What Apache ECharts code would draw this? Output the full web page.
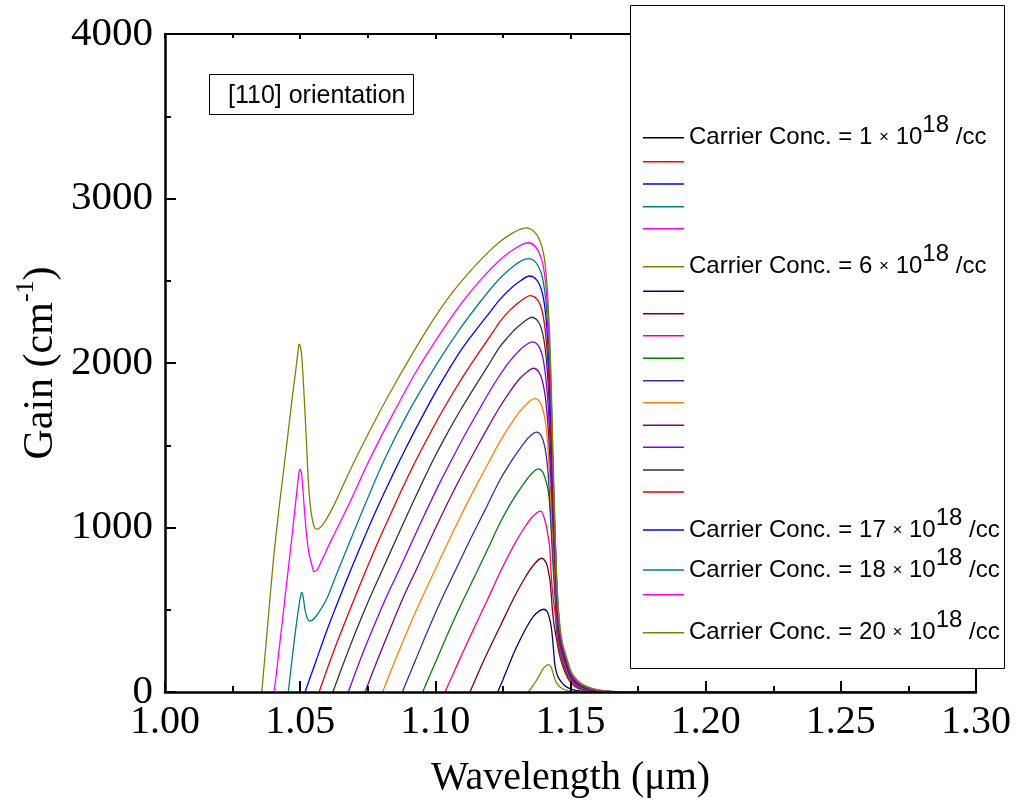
<!DOCTYPE html>
<html><head><meta charset="utf-8">
<script src="https://cdn.jsdelivr.net/npm/echarts@6/dist/echarts.min.js"></script>
<style>html,body{margin:0;padding:0;background:#fff}#chart{width:1016px;height:812px}</style>
</head><body><div id="chart"></div>
<script>
// ---- data: [wavelength (um), gain (cm^-1)] ----
const c1 = [[1.15,0],[1.30,0]];
const c2 = [[1.15,0],[1.30,0]];
const c3 = [[1.15,0],[1.30,0]];
const c4 = [[1.15,0],[1.30,0]];
const c5 = [[1.15,0],[1.30,0]];
const c6 = [[1.1344,0],[1.1360,35],[1.1375,73],[1.1388,110],[1.1399,144],[1.1410,160],[1.1419,166],[1.1427,155],[1.1434,123],[1.1440,90],[1.1446,63],[1.1458,35],[1.1471,20],[1.1490,8],[1.1520,2],[1.1560,0],[1.30,0]];
const c7 = [[1.1231,0],[1.1250,75],[1.1270,155],[1.1290,235],[1.1313,316],[1.1338,395],[1.1362,458],[1.1385,493],[1.1402,503],[1.1415,485],[1.1424,437],[1.1430,380],[1.1434,316],[1.1438,240],[1.1442,168],[1.1450,108],[1.1461,72],[1.1478,40],[1.1498,20],[1.1530,7],[1.1570,2],[1.1620,0],[1.30,0]];
const c8 = [[1.1128,0],[1.1180,195],[1.1239,397],[1.1290,570],[1.1330,690],[1.1365,775],[1.1393,813],[1.1410,785],[1.1418,735],[1.1424,680],[1.1429,590],[1.1434,480],[1.1441,390],[1.1449,316],[1.1458,235],[1.1469,170],[1.1481,115],[1.1495,70],[1.1515,35],[1.1540,14],[1.1570,4],[1.1640,0],[1.30,0]];
const c9 = [[1.1036,0],[1.1085,180],[1.1138,370],[1.1190,550],[1.1240,730],[1.1290,890],[1.1330,1000],[1.1362,1070],[1.1390,1100],[1.1408,1027],[1.1416,960],[1.1423,881],[1.1430,680],[1.1436,570],[1.1443,480],[1.1450,345],[1.1459,250],[1.1470,185],[1.1482,128],[1.1492,88],[1.1503,52],[1.1522,31],[1.1546,14],[1.1565,5],[1.1645,0],[1.30,0]];
const c10 = [[1.0953,0],[1.1003,190],[1.1053,380],[1.1105,565],[1.1157,742],[1.1200,890],[1.1239,1027],[1.1280,1150],[1.1320,1250],[1.1355,1325],[1.1382,1356],[1.1397,1338],[1.1407,1295],[1.1415,1245],[1.1421,1180],[1.1426,1060],[1.1431,900],[1.1436,750],[1.1441,615],[1.1446,490],[1.1451,350],[1.1460,258],[1.1471,192],[1.1483,134],[1.1493,92],[1.1505,54],[1.1525,33],[1.1550,15],[1.1570,6],[1.1650,0],[1.30,0]];
const c11 = [[1.0878,0],[1.0927,195],[1.0975,385],[1.1025,570],[1.1075,742],[1.1130,930],[1.1185,1110],[1.1239,1289],[1.1288,1420],[1.1320,1495],[1.1350,1555],[1.1375,1580],[1.1391,1560],[1.1402,1510],[1.1410,1440],[1.1416,1350],[1.1421,1240],[1.1426,1110],[1.1431,965],[1.1436,825],[1.1441,690],[1.1446,545],[1.1452,355],[1.1461,264],[1.1472,198],[1.1484,138],[1.1494,95],[1.1507,56],[1.1528,35],[1.1553,16],[1.1575,7],[1.1655,0],[1.30,0]];
const c12 = [[1.0805,0],[1.0852,195],[1.0900,385],[1.0950,570],[1.0999,742],[1.1050,920],[1.1100,1090],[1.1150,1250],[1.1202,1410],[1.1239,1522],[1.1280,1630],[1.1315,1710],[1.1345,1762],[1.1369,1783],[1.1387,1762],[1.1399,1710],[1.1408,1635],[1.1414,1540],[1.1419,1420],[1.1424,1280],[1.1429,1125],[1.1434,965],[1.1439,815],[1.1444,675],[1.1448,555],[1.1453,360],[1.1462,268],[1.1473,202],[1.1485,142],[1.1495,98],[1.1509,58],[1.1530,36],[1.1556,17],[1.1580,7],[1.1660,0],[1.30,0]];
const c13 = [[1.0740,0],[1.0786,195],[1.0833,385],[1.0880,570],[1.0929,742],[1.0979,920],[1.1028,1090],[1.1078,1255],[1.1128,1410],[1.1185,1580],[1.1239,1734],[1.1280,1835],[1.1315,1910],[1.1343,1950],[1.1362,1968],[1.1382,1948],[1.1396,1890],[1.1406,1805],[1.1413,1695],[1.1419,1565],[1.1424,1415],[1.1429,1245],[1.1434,1065],[1.1439,885],[1.1444,720],[1.1448,565],[1.1454,365],[1.1463,272],[1.1474,206],[1.1486,145],[1.1496,100],[1.1511,59],[1.1532,37],[1.1559,17],[1.1585,7],[1.1665,0],[1.30,0]];
const c14 = [[1.0678,0],[1.0722,195],[1.0770,390],[1.0818,575],[1.0866,742],[1.0914,915],[1.0962,1085],[1.1010,1250],[1.1060,1410],[1.1110,1565],[1.1160,1710],[1.1200,1825],[1.1239,1927],[1.1275,2010],[1.1310,2075],[1.1340,2115],[1.1359,2129],[1.1380,2108],[1.1395,2050],[1.1405,1960],[1.1413,1835],[1.1419,1695],[1.1424,1535],[1.1429,1345],[1.1434,1135],[1.1439,935],[1.1444,755],[1.1449,570],[1.1455,370],[1.1464,276],[1.1475,210],[1.1487,148],[1.1497,102],[1.1513,60],[1.1534,38],[1.1562,18],[1.1590,7],[1.1670,0],[1.30,0]];
const c15 = [[1.0621,0],[1.0665,195],[1.0710,385],[1.0757,570],[1.0804,742],[1.0850,910],[1.0897,1080],[1.0945,1250],[1.0992,1410],[1.1040,1560],[1.1090,1705],[1.1140,1840],[1.1190,1970],[1.1239,2099],[1.1270,2160],[1.1295,2205],[1.1320,2240],[1.1340,2265],[1.1355,2278],[1.1378,2258],[1.1394,2200],[1.1405,2105],[1.1413,1975],[1.1419,1825],[1.1424,1645],[1.1429,1435],[1.1434,1205],[1.1439,985],[1.1444,785],[1.1449,575],[1.1456,375],[1.1465,280],[1.1476,214],[1.1488,152],[1.1499,104],[1.1515,62],[1.1536,39],[1.1565,18],[1.1595,8],[1.1675,0],[1.30,0]];
const c16 = [[1.0570,0],[1.0612,195],[1.0655,380],[1.0700,565],[1.0744,742],[1.0790,920],[1.0837,1090],[1.0883,1255],[1.0929,1410],[1.0975,1555],[1.1025,1705],[1.1075,1845],[1.1125,1975],[1.1170,2085],[1.1218,2200],[1.1239,2251],[1.1275,2320],[1.1310,2370],[1.1335,2398],[1.1350,2409],[1.1376,2388],[1.1393,2328],[1.1404,2232],[1.1412,2102],[1.1418,1952],[1.1424,1752],[1.1429,1522],[1.1434,1262],[1.1439,1022],[1.1444,802],[1.1449,580],[1.1457,380],[1.1466,284],[1.1477,218],[1.1489,155],[1.1500,107],[1.1517,64],[1.1538,40],[1.1568,19],[1.1600,8],[1.1680,0],[1.30,0]];
const c17 = [[1.0518,0],[1.0560,195],[1.0600,380],[1.0645,570],[1.0687,742],[1.0735,930],[1.0780,1100],[1.0825,1260],[1.0869,1410],[1.0915,1560],[1.0960,1700],[1.1005,1835],[1.1050,1960],[1.1100,2090],[1.1150,2200],[1.1200,2305],[1.1239,2387],[1.1280,2455],[1.1315,2500],[1.1348,2529],[1.1374,2507],[1.1392,2447],[1.1404,2352],[1.1412,2222],[1.1418,2062],[1.1424,1852],[1.1430,1582],[1.1435,1302],[1.1440,1052],[1.1445,822],[1.1450,585],[1.1458,385],[1.1467,288],[1.1478,222],[1.1490,158],[1.1501,110],[1.1519,66],[1.1540,41],[1.1571,20],[1.1605,8],[1.1685,0],[1.30,0]];
const c18 = [[1.0456,0],[1.0470,200],[1.0485,400],[1.0497,540],[1.0503,595],[1.0506,606],[1.0511,580],[1.0518,500],[1.0527,445],[1.0536,431],[1.0561,465],[1.0598,565],[1.0633,710],[1.0720,1060],[1.0811,1410],[1.0900,1700],[1.1000,1980],[1.1088,2200],[1.1170,2380],[1.1239,2515],[1.1290,2590],[1.1320,2622],[1.1345,2634],[1.1372,2610],[1.1391,2550],[1.1403,2455],[1.1412,2320],[1.1418,2160],[1.1424,1940],[1.1430,1650],[1.1435,1350],[1.1440,1080],[1.1445,840],[1.1450,590],[1.1459,390],[1.1468,292],[1.1479,226],[1.1491,162],[1.1502,112],[1.1521,68],[1.1542,42],[1.1574,20],[1.1610,8],[1.1690,0],[1.30,0]];
const c19 = [[1.0404,0],[1.0425,300],[1.0450,660],[1.0470,950],[1.0485,1180],[1.0494,1310],[1.0499,1354],[1.0505,1330],[1.0512,1190],[1.0518,1060],[1.0524,950],[1.0533,840],[1.0543,775],[1.0551,731],[1.0565,748],[1.0580,800],[1.0620,940],[1.0680,1140],[1.0756,1410],[1.0840,1680],[1.0930,1950],[1.1027,2200],[1.1100,2370],[1.1170,2510],[1.1239,2626],[1.1285,2685],[1.1320,2720],[1.1344,2731],[1.1370,2708],[1.1390,2645],[1.1403,2550],[1.1412,2410],[1.1418,2250],[1.1424,2030],[1.1430,1720],[1.1435,1400],[1.1440,1120],[1.1445,860],[1.1451,595],[1.1460,395],[1.1469,296],[1.1480,230],[1.1492,166],[1.1503,115],[1.1523,70],[1.1544,44],[1.1577,21],[1.1615,8],[1.1695,0],[1.30,0]];
const c20 = [[1.0358,0],[1.0380,410],[1.0401,802],[1.0425,1160],[1.0450,1500],[1.0470,1780],[1.0484,1960],[1.0492,2070],[1.0496,2114],[1.0502,2090],[1.0506,2038],[1.0512,1880],[1.0518,1696],[1.0524,1490],[1.0530,1289],[1.0536,1160],[1.0543,1066],[1.0552,1005],[1.0561,989],[1.0585,1020],[1.0620,1120],[1.0660,1260],[1.0703,1410],[1.0780,1660],[1.0860,1900],[1.0968,2200],[1.1050,2400],[1.1130,2560],[1.1200,2680],[1.1239,2737],[1.1280,2785],[1.1310,2810],[1.1335,2822],[1.1365,2800],[1.1388,2738],[1.1403,2640],[1.1412,2500],[1.1418,2340],[1.1424,2120],[1.1430,1800],[1.1435,1450],[1.1440,1160],[1.1445,880],[1.1452,600],[1.1461,400],[1.1470,300],[1.1481,235],[1.1493,170],[1.1504,118],[1.1525,72],[1.1546,45],[1.1580,22],[1.1620,9],[1.1700,0],[1.30,0]];

const curves = [c1,c2,c3,c4,c5,c6,c7,c8,c9,c10,c11,c12,c13,c14,c15,c16,c17,c18,c19,c20];
const colors = ['#000000','#FF0000','#0000FF','#008080','#FF00FF','#808000','#000080','#800000','#FF0080','#008000',
                '#3030A8','#FF8000','#800080','#8000FF','#333333','#E60000','#0000FF','#008080','#FF00FF','#808000'];
// carrier concentration shown in the legend (null = no text)
const legendConc = [1,null,null,null,null,6,null,null,null,null,null,null,null,null,null,null,17,18,null,20];
const xTickLabels = ['1.00','1.05','1.10','1.15','1.20','1.25','1.30'];
const yTickLabels = ['0','1000','2000','3000','4000'];

// ---- layout ----
const legendRowY = [137.7,160.7,183,205.7,227.7,266.7,290.3,312.7,334.7,357.3,379.7,401.7,424.3,446.3,469,491,530,570,593.7,632.7];
const serif = '"Liberation Serif","Times New Roman",serif';
const sans = '"Liberation Sans",Arial,sans-serif';

const chart = echarts.init(document.getElementById('chart'), null, {renderer:'canvas'});

const series = curves.map((d, i) => ({
  type: 'line', name: 's' + (i + 1), data: d, xAxisIndex: 0, yAxisIndex: 0,
  symbol: 'none', showSymbol: false, smooth: 0.3,
  color: colors[i], lineStyle: {color: colors[i], width: 1.3}, z: 2, animation: false, clip: true
}));

const legendRich = {
  m: {fontSize: 24, lineHeight: 48, fontFamily: sans, color: '#000'},
  x: {fontSize: 17, lineHeight: 48, fontFamily: sans, color: '#000'},
  s: {fontSize: 24, lineHeight: 24, verticalAlign: 'top', fontFamily: sans, color: '#000'}
};
const legends = curves.map((d, i) => ({
  orient: 'vertical', left: 643, top: legendRowY[i] - (legendConc[i] === null ? 11 : 24), padding: 0, itemGap: 0,
  itemWidth: 41, itemHeight: 1.5, icon: 'rect', z: 20, selectedMode: false,
  data: [{name: 's' + (i + 1)}],
  formatter: () => legendConc[i] === null ? '{m| }' :
    '{m|Carrier Conc. = ' + legendConc[i] + ' }{x|\u00d7}{m| 10}{s|18}{m| /cc}',
  textStyle: {rich: legendRich, fontSize: 24, fontFamily: sans, color: '#000'}
}));

const axisLineStyle = {color: '#000', width: 2.5};
const option = {
  backgroundColor: '#fff',
  animation: false,
  grid: {left: 165, right: 40, top: 34, bottom: 120, containLabel: false, outerBoundsMode: 'none'},
  xAxis: [
    {type: 'value', position: 'bottom', min: 1.0, max: 1.3, interval: 0.05, z: 3,
     axisLine: {show: true, onZero: false, lineStyle: axisLineStyle},
     axisTick: {show: true, inside: true, length: 11, lineStyle: {color: '#000', width: 2}},
     minorTick: {show: true, splitNumber: 2, length: 6, lineStyle: {color: '#000', width: 2}},
     splitLine: {show: false},
     axisLabel: {show: true, margin: 10, color: '#000', fontFamily: serif, fontSize: 40,
       formatter: v => xTickLabels[Math.round((v - 1.0) / 0.05)]},
     name: 'Wavelength (\u03bcm)', nameLocation: 'middle', nameGap: 66, nameMoveOverlap: false,
     nameTextStyle: {color: '#000', fontFamily: serif, fontSize: 40}},
    {type: 'value', position: 'top', min: 1.0, max: 1.3, interval: 0.05, z: 3,
     axisLine: {show: true, onZero: false, lineStyle: {color: '#000', width: 2}},
     axisTick: {show: true, inside: true, length: 5, lineStyle: {color: '#000', width: 2}},
     minorTick: {show: true, splitNumber: 2, length: 4, lineStyle: {color: '#000', width: 2}},
     splitLine: {show: false}, axisLabel: {show: false}}
  ],
  yAxis: [
    {type: 'value', position: 'left', min: 0, max: 4000, interval: 1000, z: 3,
     axisLine: {show: true, onZero: false, lineStyle: axisLineStyle},
     axisTick: {show: true, inside: true, length: 11, lineStyle: {color: '#000', width: 2}},
     minorTick: {show: true, splitNumber: 2, length: 6, lineStyle: {color: '#000', width: 2}},
     splitLine: {show: false},
     axisLabel: {show: true, margin: 12, color: '#000', fontFamily: serif, fontSize: 41,
       formatter: v => yTickLabels[Math.round(v / 1000)]},
     name: '{m|Gain (cm}{s|-1}{m|)}', nameLocation: 'middle', nameGap: 96, nameRotate: 90, nameMoveOverlap: false,
     nameTextStyle: {color: '#000', fontFamily: serif, fontSize: 42,
       rich: {m: {fontFamily: serif, fontSize: 42, lineHeight: 56, color: '#000'},
              s: {fontFamily: serif, fontSize: 26, lineHeight: 26, verticalAlign: 'top', color: '#000'}}}},
    {type: 'value', position: 'right', min: 0, max: 4000, interval: 1000, z: 3,
     axisLine: {show: true, onZero: false, lineStyle: {color: '#000', width: 2}},
     axisTick: {show: true, inside: true, length: 10, lineStyle: {color: '#000', width: 2}},
     minorTick: {show: true, splitNumber: 2, length: 5, lineStyle: {color: '#000', width: 2}},
     splitLine: {show: false}, axisLabel: {show: false}}
  ],
  legend: legends,
  graphic: [
    {type: 'rect', z: 10, shape: {x: 630.5, y: 5.5, width: 374, height: 663},
     style: {fill: '#fff', stroke: '#000', lineWidth: 1}},
    {type: 'rect', z: 10, shape: {x: 209.5, y: 74.5, width: 204, height: 40},
     style: {fill: '#fff', stroke: '#000', lineWidth: 1}},
    {type: 'text', z: 11, x: 228, y: 96,
     style: {text: '[110] orientation', fontSize: 25, fontFamily: sans, fill: '#000', verticalAlign: 'middle', align: 'left'}}
  ],
  series: series
};
chart.setOption(option);
</script>
</body></html>
